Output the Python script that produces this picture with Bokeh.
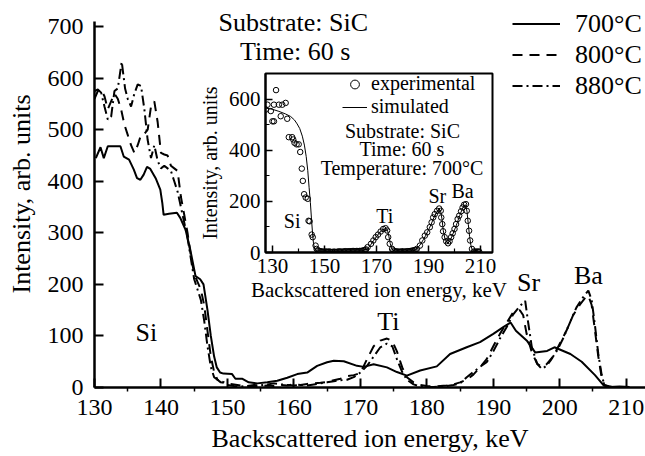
from bokeh.plotting import figure
from bokeh.models import (Range1d, FixedTicker, Legend, LegendItem, Label, GridBox)
from bokeh.embed import file_html
from bokeh.resources import INLINE

FONT = "Liberation Serif"

# ---------------- main chart data ----------------
e700 = [130.2, 130.9, 131.4, 132.0, 133.9, 134.4, 135.2, 135.9, 136.4, 136.9, 137.4, 137.9,
        138.4, 139.2, 139.9, 140.2, 140.4, 141.2, 142.4, 142.9, 143.7, 144.4, 145.2, 145.9,
        146.4, 147.0, 147.5, 148.0, 148.4, 148.9, 149.4, 150.7, 151.2, 152.2, 153.2, 154.5,
        156.0, 157.5, 159.0, 160.5, 162.0, 163.5, 165.0, 166.0, 167.5, 169.5, 170.5, 172.0,
        174.0, 175.5, 177.0, 179.0, 181.5, 183.5, 186.0, 188.0, 190.0, 191.5, 192.6, 193.4,
        195.1, 196.3, 198.1, 199.2, 201.6, 203.3, 205.3, 206.6, 207.5, 209.0, 210.5]
i700 = [445, 466, 445, 468, 468, 448, 442, 423, 406, 403, 413, 428,
        424, 406, 384, 358, 335, 337, 339, 329, 306, 268, 216, 210,
        200, 150, 100, 60, 39, 29, 27, 26, 17, 17, 10, 8,
        10, 13, 19, 26, 29, 42, 49, 52, 51, 42, 40, 45,
        39, 30, 23, 33, 41, 65, 78, 88, 104, 117, 126, 110,
        90, 68, 71, 78, 65, 50, 24, 4, 1, 2, 1]

e800 = [130.0, 130.5, 131.0, 131.5, 132.0, 132.5, 133.0, 133.5, 134.0, 134.5, 135.0, 135.5,
        136.0, 136.5, 137.0, 137.5, 138.0, 138.5, 139.0, 139.5, 140.0, 140.5, 141.0, 141.5,
        142.0, 142.5, 143.0, 143.5, 144.0, 144.5, 145.0, 145.5, 146.0, 146.5, 147.0, 147.5,
        148.0, 148.5, 149.0, 150, 151, 152, 153, 154, 155, 156, 157, 158, 159, 160, 161, 162,
        163, 164, 165, 166, 167, 168, 169, 170, 171, 172, 173, 174, 174.8, 175.5, 176.3, 177,
        178, 179, 180, 181, 182, 183, 184, 185, 186, 187, 188, 189, 190, 191, 192, 193, 194,
        194.5, 195, 195.8, 196.6, 197.3, 198, 199, 200, 201, 202, 203, 203.7, 204.3, 204.8,
        205.3, 205.8, 206.3, 206.7, 207.5, 208.5, 210]
i800 = [560, 575, 578, 565, 540, 555, 570, 560, 540, 510, 490, 470,
        455, 470, 490, 492, 500, 545, 555, 515, 455, 452, 450, 430,
        425, 420, 370, 335, 300, 255, 220, 205, 190, 160, 110, 60,
        30, 15, 10, 8, 6, 4, 3, 2, 3, 4, 3, 5, 4, 6, 5, 7,
        8, 9, 11, 14, 17, 22, 24, 28, 55, 80, 91, 95, 90, 70, 39, 20,
        10, 5, 3, 2, 3, 4, 6, 10, 15, 25, 39, 55, 80, 104, 125, 146, 150,
        140, 105, 68, 46, 40, 45, 60, 85, 110, 140, 160, 172, 178, 160,
        110, 60, 20, 5, 2, 1, 1]

e880 = [130.0, 130.5, 131.0, 131.5, 132.0, 132.5, 133.0, 133.5, 134.1, 134.6, 135.0, 135.5,
        136.0, 136.5, 137.0, 137.5, 138.0, 138.5, 139.0, 139.5, 140.0, 140.5, 141.0, 141.5,
        142.0, 142.5, 143.0, 143.5, 144.0, 144.5, 145.0, 145.5, 146.0, 146.5, 147.0, 147.5,
        148.0, 148.5, 149.0, 149.5, 150, 151, 152, 153, 154, 155, 156, 157, 158, 159, 160,
        161, 162, 163, 164, 165, 166, 167, 168, 169, 170, 171, 172, 173, 174, 174.8, 175.5,
        176.3, 177, 178, 179, 180, 181, 182, 183, 184, 185, 186, 187, 188, 189, 190, 191,
        192, 193, 194, 194.8, 195.2, 195.8, 196.6, 197.3, 198, 198.6, 199.6, 200.5, 201.5,
        202.5, 203.5, 204.3, 204.8, 205.3, 205.8, 206.3, 206.7, 207.5, 209, 210]
i880 = [575, 578, 572, 545, 520, 525, 575, 580, 632, 580, 560, 545,
        570, 588, 585, 540, 480, 445, 470, 440, 425, 430, 425, 420,
        400, 380, 350, 320, 290, 250, 210, 190, 170, 130, 80, 40,
        20, 15, 12, 10, 5, 3, 2, 3, 5, 4, 6, 8, 6, 5, 4,
        5, 4, 6, 8, 10, 12, 14, 15, 20, 29, 42, 60, 78, 85, 80, 55,
        30, 15, 6, 2, 1, 1, 2, 3, 5, 8, 20, 30, 40, 49, 70, 95,
        117, 142, 158, 168, 130, 78, 46, 36, 42, 52, 72, 95, 125,
        155, 175, 188, 170, 120, 65, 25, 5, 1, 1, 1]

series_labels = ["700°C", "800°C", "880°C"]
x_ticks = [130, 140, 150, 160, 170, 180, 190, 200, 210]
y_ticks = [0, 100, 200, 300, 400, 500, 600, 700]

# ---------------- inset data ----------------
exp_e = [127.5, 128.1, 129.4, 130.0, 130.6, 130.6, 131.4, 132.5, 133.2, 133.8, 135.1, 135.7,
         136.3, 137.6, 138.0, 138.5, 139.3, 140.1, 140.7, 141.3, 141.7, 142.2, 142.8, 143.6,
         143.9, 144.3, 145.1, 145.5, 146.6, 147.0,
         147.5, 148.0, 148.5, 149.0, 149.5, 150.0, 150.5, 151.0, 151.5, 152.0, 152.5, 153.0,
         153.5, 154.0, 154.5, 155.0, 155.5, 156.0, 156.5, 157.0, 157.5, 158.0, 158.5, 159.0,
         159.5, 160.0, 160.5, 161.0, 161.5, 162.0, 162.5, 163.0, 163.5, 164.0, 164.5, 165.0,
         165.5, 166.0,
         166.6, 167.9, 168.8, 169.7, 170.6, 171.6, 172.6, 173.5, 174.1, 174.5, 175.1, 176.0,
         176.5, 177.0, 177.5, 178.0, 178.5, 179.0, 179.5, 180.0, 180.5, 181.0, 181.5, 182.0,
         182.5, 183.0, 183.5, 184.0, 184.5, 185.0,
         185.5, 186.7, 187.6, 188.6, 189.5, 190.5, 191.2, 191.8, 192.4, 193.3, 194.1, 194.7,
         194.9, 195.3, 195.6, 196.2, 196.8, 197.5, 198.1, 198.7,
         199.3, 200.0, 200.6, 201.2, 201.8, 202.5, 203.1, 203.7, 204.4, 204.7, 205.1, 205.6,
         206.0, 206.7, 207.5, 208.0, 208.5, 209.0, 209.5]
exp_i = [559, 578, 553, 513, 578, 513, 635, 578, 533, 578, 585, 523,
         451, 451, 442, 429, 423, 423, 393, 328, 280, 228, 215, 210,
         124, 122, 70, 60, 27, 14,
         8, 6, 5, 4, 3, 3, 4, 3, 3, 4, 2, 2,
         3, 3, 2, 3, 4, 4, 3, 3, 4, 5, 4, 4,
         5, 4, 5, 6, 5, 5, 6, 5, 6, 6, 7, 8,
         10, 12,
         21, 34, 47, 60, 70, 82, 92, 95, 86, 60, 34, 14,
         8, 5, 4, 4, 3, 3, 4, 4, 3, 4, 4, 5,
         5, 6, 6, 8, 9, 10,
         14, 27, 47, 66, 79, 99, 118, 137, 150, 163, 172, 163,
         137, 111, 83, 60, 44, 36, 44, 60,
         75, 92, 111, 131, 144, 161, 176, 187, 189, 163, 124, 85,
         47, 14, 4, 3, 3, 4, 3]

sim_e = [127.3, 130.0, 132.5, 135.0, 137.0, 138.5, 139.5, 140.5, 141.5, 142.3, 143.0, 143.6,
         144.1, 144.6, 145.0, 145.4, 145.8, 146.3, 147.0, 150.0, 155.0, 160.0, 164.0, 166.0,
         167.0, 168.0, 169.0, 170.0, 171.0, 172.0, 173.0, 173.8, 174.3, 174.8, 175.3, 175.8,
         176.5, 178.0, 182.0, 184.0, 185.0, 186.0, 187.0, 188.0, 189.0, 190.0, 191.0, 192.0,
         193.0, 194.0, 194.6, 195.2, 195.7, 196.3, 197.0, 197.5, 198.2, 199.0, 200.0, 201.0,
         202.0, 203.0, 203.8, 204.3, 204.8, 205.3, 205.8, 206.3, 206.8, 207.5, 209.0, 210.0]
sim_i = [565, 560, 552, 542, 532, 518, 503, 485, 455, 420, 375, 320,
         255, 195, 135, 80, 35, 12, 6, 4, 3, 4, 6, 12,
         20, 33, 48, 62, 75, 86, 92, 93, 85, 62, 35, 17,
         8, 4, 4, 7, 11, 20, 33, 50, 68, 88, 110, 135,
         155, 168, 165, 130, 85, 55, 40, 37, 44, 63, 88, 115,
         145, 170, 185, 186, 160, 110, 62, 28, 10, 4, 3, 3]

inset_x_ticks = [130, 150, 170, 190, 210]
inset_y_ticks = [0, 200, 400, 600]

# ---------------- main figure ----------------
p = figure(width=645, height=456, x_range=Range1d(130, 212.9), y_range=Range1d(0, 750.7),
           output_backend="svg", toolbar_location=None,
           min_border_left=94, min_border_right=0, min_border_top=0, min_border_bottom=69)
p.outline_line_color = None
p.xgrid.visible = False
p.ygrid.visible = False
p.background_fill_color = "white"
p.border_fill_color = "white"

r1 = p.line(e700, i700, line_color="black", line_width=2)
r2 = p.line(e800, i800, line_color="black", line_width=2, line_dash="10 7")
r3 = p.line(e880, i880, line_color="black", line_width=2, line_dash="10 4 2 4")

for ax in (p.xaxis[0], p.yaxis[0]):
    ax.axis_line_width = 2.5
    ax.axis_line_color = "black"
    ax.major_tick_line_width = 2
    ax.minor_tick_line_width = 1.5
    ax.major_tick_in = 9
    ax.major_tick_out = 0
    ax.major_label_text_font = FONT
    ax.major_label_text_font_size = "24px"
    ax.major_label_text_color = "black"
    ax.axis_label_text_font = FONT
    ax.axis_label_text_font_size = "26px"
    ax.axis_label_text_font_style = "normal"
    ax.axis_label_text_color = "black"

p.xaxis[0].ticker = FixedTicker(ticks=x_ticks, minor_ticks=[t + 5 for t in x_ticks[:-1]])
p.xaxis[0].minor_tick_in = 0
p.xaxis[0].minor_tick_out = 4
p.xaxis[0].major_label_standoff = 8
p.xaxis[0].axis_label = "Backscattered ion energy, keV"
p.xaxis[0].axis_label_standoff = 6

p.yaxis[0].ticker = FixedTicker(ticks=y_ticks, minor_ticks=[])
p.yaxis[0].bounds = (0, 710)
p.yaxis[0].minor_tick_in = 0
p.yaxis[0].minor_tick_out = 0
p.yaxis[0].major_label_standoff = 11
p.yaxis[0].axis_label = "Intensity, arb. units"
p.yaxis[0].axis_label_standoff = 9

legend = Legend(items=[LegendItem(label=series_labels[0], renderers=[r1]),
                       LegendItem(label=series_labels[1], renderers=[r2]),
                       LegendItem(label=series_labels[2], renderers=[r3])],
                location=(418, 286), border_line_color=None, background_fill_alpha=0,
                padding=0, margin=0, spacing=-2, glyph_width=48, glyph_height=31,
                label_height=31, label_standoff=15, label_text_font=FONT,
                label_text_font_size="26px", label_text_color="black")
p.add_layout(legend)

def main_label(x, y, t):
    p.add_layout(Label(x=x, y=y, text=t, text_font=FONT, text_font_size="26px",
                       text_align="center", text_baseline="middle", text_color="black"))

main_label(137.8, 107, "Si")
main_label(174.2, 128, "Ti")
main_label(195.3, 204, "Sr")
main_label(204.3, 217, "Ba")
main_label(159.9, 708, "Substrate: SiC")
main_label(160.2, 652, "Time: 60 s")

# ---------------- inset figure ----------------
q = figure(width=315, height=253, x_range=Range1d(127.35, 214.6), y_range=Range1d(0, 700),
           output_backend="svg", toolbar_location=None,
           min_border_left=66, min_border_right=18, min_border_top=11, min_border_bottom=63)
q.xgrid.visible = False
q.ygrid.visible = False
q.background_fill_color = "white"
q.border_fill_alpha = 0
q.outline_line_color = "black"
q.outline_line_width = 2

rs = q.line(sim_e, sim_i, line_color="black", line_width=1)
re = q.scatter(exp_e, exp_i, marker="circle", size=5.5, fill_color="white", fill_alpha=0,
               line_color="black", line_width=1)

for ax in (q.xaxis[0], q.yaxis[0]):
    ax.axis_line_width = 2
    ax.axis_line_color = "black"
    ax.major_tick_line_width = 1.5
    ax.minor_tick_line_width = 1.2
    ax.major_tick_in = 7
    ax.major_tick_out = 0
    ax.minor_tick_in = 4
    ax.minor_tick_out = 0
    ax.major_label_text_font = FONT
    ax.major_label_text_font_size = "21px"
    ax.major_label_text_color = "black"
    ax.axis_label_text_font = FONT
    ax.axis_label_text_font_style = "normal"
    ax.axis_label_text_color = "black"

q.xaxis[0].ticker = FixedTicker(ticks=inset_x_ticks, minor_ticks=[140, 160, 180, 200])
q.xaxis[0].major_label_standoff = 6
q.xaxis[0].axis_label = "Backscattered ion energy, keV"
q.xaxis[0].axis_label_text_font_size = "21px"
q.xaxis[0].axis_label_standoff = 2
q.yaxis[0].ticker = FixedTicker(ticks=inset_y_ticks, minor_ticks=[100, 300, 500])
q.yaxis[0].major_label_standoff = 5
q.yaxis[0].axis_label = "Intensity, arb. units"
q.yaxis[0].axis_label_text_font_size = "20px"
q.yaxis[0].axis_label_standoff = 5

ilegend = Legend(items=[LegendItem(label="experimental", renderers=[re]),
                        LegendItem(label="simulated", renderers=[rs])],
                 location=(77, 134), border_line_color=None, background_fill_alpha=0,
                 padding=0, margin=0, spacing=0, glyph_width=25, glyph_height=22,
                 label_height=22, label_standoff=4, label_text_font=FONT,
                 label_text_font_size="20px", label_text_color="black")
q.add_layout(ilegend)

def inset_label(x, y, t):
    q.add_layout(Label(x=x, y=y, text=t, text_font=FONT, text_font_size="20px",
                       text_align="center", text_baseline="middle", text_color="black"))

inset_label(180.0, 474, "Substrate: SiC")
inset_label(179.8, 404, "Time: 60 s")
inset_label(179.8, 331, "Temperature: 700°C")
inset_label(137.6, 124, "Si")
inset_label(173.2, 142, "Ti")
inset_label(193.4, 222, "Sr")
inset_label(203.1, 241, "Ba")

layout = GridBox(children=[(p, 0, 0, 3, 3), (q, 1, 1, 1, 1)],
                 rows=["62px", "253px", "141px"], cols=["195px", "315px", "135px"],
                 width=645, height=456)

open("out.html", "w").write(file_html(layout, INLINE))
